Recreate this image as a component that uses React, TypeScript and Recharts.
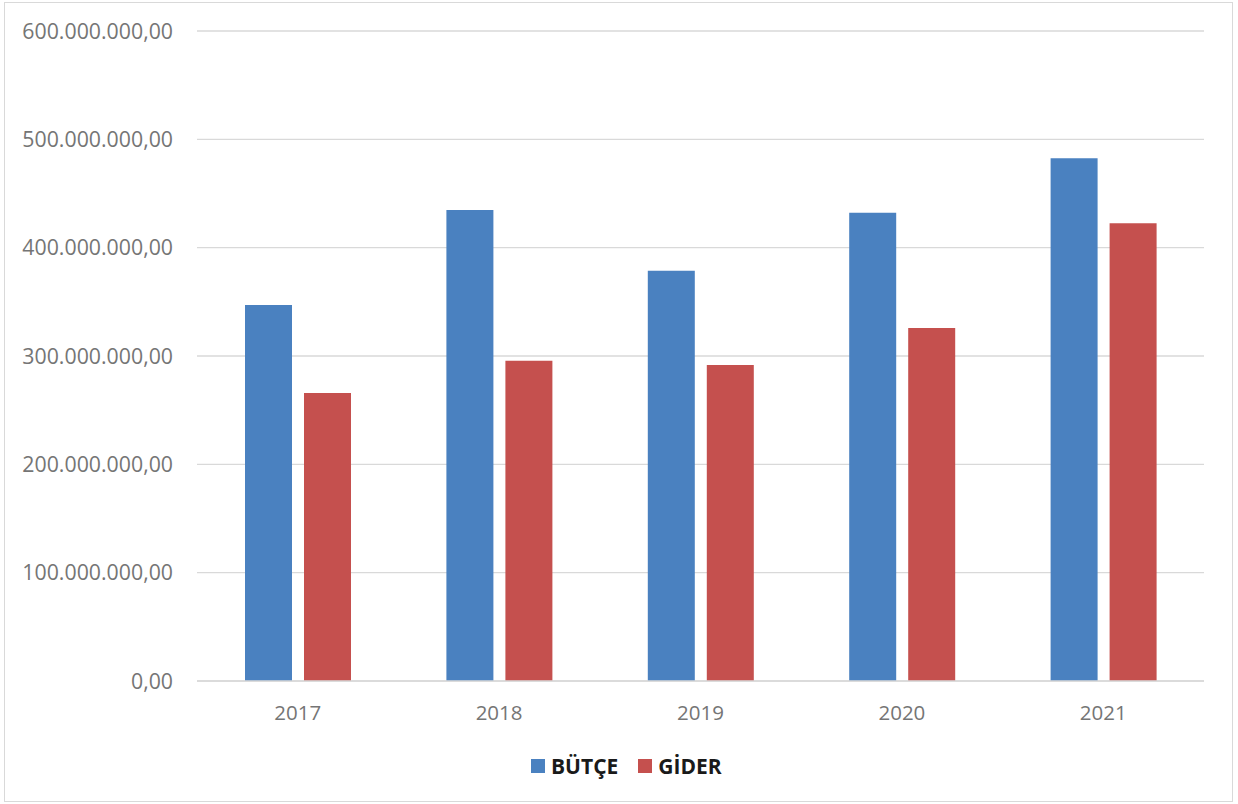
import React from 'react';
import { BarChart, Bar, XAxis, YAxis, CartesianGrid } from 'recharts';

// yearly budget vs expense (TL)
const years = ['2017', '2018', '2019', '2020', '2021'];
const butce = [347100000, 434800000, 378700000, 432300000, 482500000];
const gider = [265800000, 295700000, 291700000, 325800000, 422500000];
const yTicks = [0, 100000000, 200000000, 300000000, 400000000, 500000000, 600000000];

const BLUE = '#4a81c0';
const RED = '#c5504e';

const data = years.map((year, i) => ({ year, butce: butce[i], gider: gider[i] }));

const formatTL = (v: number) =>
  v.toLocaleString('tr-TR', { minimumFractionDigits: 2, maximumFractionDigits: 2 });

const legendItems = [
  { label: 'BÜTÇE', color: BLUE },
  { label: 'GİDER', color: RED },
];

const App: React.FC = () => {
  return (
    <div style={{ position: 'absolute', left: 0, top: 0, width: 1238, height: 804, background: '#fff' }}>
      <div
        style={{
          position: 'absolute',
          left: 4,
          top: 2,
          width: 1227,
          height: 798,
          border: '1px solid #d9d9d9',
        }}
      />
      <BarChart
        width={1238}
        height={804}
        data={data}
        margin={{ top: 31, right: 34, left: 0, bottom: 93 }}
        barGap={12}
        barCategoryGap={48}
        style={{ position: 'absolute', left: 0, top: 0 }}
      >
        <CartesianGrid vertical={false} stroke="#d9d9d9" strokeWidth={1.3} />
        <XAxis
          dataKey="year"
          height={30}
          stroke="#d9d9d9"
          strokeWidth={1.3}
          tickLine={false}
          tickSize={0}
          tickMargin={24}
          tick={{ fill: '#757575', fontSize: 20.5, fontFamily: '"Open Sans", sans-serif' }}
        />
        <YAxis
          width={197}
          domain={[0, 600000000]}
          ticks={yTicks}
          axisLine={false}
          tickLine={false}
          tickSize={0}
          tickMargin={24}
          tickFormatter={formatTL}
          tick={{ fill: '#757575', fontSize: 21.3, fontFamily: '"Open Sans", sans-serif' }}
        />
        <Bar dataKey="butce" name="BÜTÇE" fill={BLUE} isAnimationActive={false} />
        <Bar dataKey="gider" name="GİDER" fill={RED} isAnimationActive={false} />
      </BarChart>
      <div style={{ position: 'absolute', left: 531, top: 750, height: 32, display: 'flex', alignItems: 'center' }}>
        {legendItems.map((item) => (
          <div key={item.label} style={{ display: 'flex', alignItems: 'center', marginRight: 20 }}>
            <span style={{ display: 'inline-block', width: 14, height: 14, background: item.color, marginRight: 6 }} />
            <span style={{ fontFamily: '"Open Sans", sans-serif', fontWeight: 700, fontSize: 21, color: '#1a1a1a' }}>
              {item.label}
            </span>
          </div>
        ))}
      </div>
    </div>
  );
};

export default App;
